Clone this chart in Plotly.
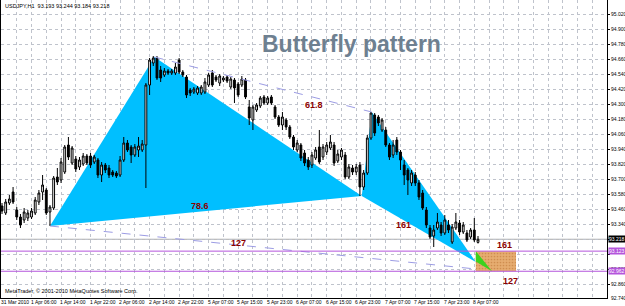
import plotly.graph_objects as go

# ---------------- data ----------------
bar_index = list(range(130))
opens = [93.484, 93.428, 93.508, 93.596, 93.452, 93.396, 93.372, 93.388, 93.396, 93.428,
         93.516, 93.596, 93.612, 93.436, 93.468, 93.716, 93.692, 93.756, 93.972, 93.828,
         93.860, 93.796, 93.820, 93.884, 93.884, 93.836, 93.852, 93.732, 93.812, 93.788,
         93.756, 93.748, 93.732, 93.852, 93.988, 93.956, 93.892, 93.932, 93.932, 93.972,
         94.452, 94.628, 94.668, 94.572, 94.532, 94.564, 94.548, 94.548, 94.652, 94.556,
         94.516, 94.412, 94.396, 94.388, 94.388, 94.396, 94.452, 94.548, 94.516, 94.468,
         94.492, 94.516, 94.436, 94.492, 94.460, 94.452, 94.492, 94.276, 94.172, 94.252,
         94.284, 94.356, 94.308, 94.356, 94.276, 94.196, 94.132, 94.172, 94.116, 94.036,
         93.932, 93.972, 93.908, 93.852, 93.812, 93.868, 93.956, 93.876, 93.916, 93.948,
         93.972, 93.844, 93.876, 93.892, 93.716, 93.788, 93.756, 93.812, 93.636, 93.748,
         94.028, 94.212, 94.196, 94.092, 94.092, 93.972, 93.892, 94.012, 93.916, 93.812,
         93.772, 93.668, 93.732, 93.668, 93.588, 93.452, 93.308, 93.244, 93.308, 93.332,
         93.268, 93.332, 93.196, 93.308, 93.348, 93.276, 93.268, 93.236, 93.292, 93.193]
highs = [93.508, 93.540, 93.572, 93.636, 93.476, 93.420, 93.468, 93.452, 93.468, 93.556,
         93.612, 93.732, 93.628, 93.492, 93.724, 93.788, 93.868, 93.972, 94.036, 93.964,
         93.884, 93.876, 93.908, 93.900, 93.908, 93.892, 93.868, 93.836, 93.828, 93.812,
         93.772, 93.764, 93.884, 94.036, 94.012, 93.972, 93.980, 94.036, 94.012, 94.468,
         94.668, 94.684, 94.684, 94.604, 94.588, 94.580, 94.580, 94.628, 94.668, 94.572,
         94.532, 94.428, 94.436, 94.444, 94.452, 94.508, 94.548, 94.572, 94.532, 94.540,
         94.524, 94.532, 94.516, 94.508, 94.476, 94.524, 94.508, 94.332, 94.292, 94.308,
         94.364, 94.372, 94.364, 94.372, 94.292, 94.212, 94.236, 94.188, 94.132, 94.052,
         94.012, 93.988, 93.932, 93.876, 93.916, 93.956, 94.092, 93.980, 93.996, 94.052,
         93.996, 93.932, 93.948, 93.916, 93.820, 93.812, 93.820, 93.836, 93.772, 94.052,
         94.236, 94.228, 94.212, 94.188, 94.116, 93.988, 94.012, 94.036, 93.932, 93.852,
         93.788, 93.772, 93.756, 93.692, 93.612, 93.476, 93.332, 93.332, 93.428, 93.356,
         93.412, 93.372, 93.340, 93.428, 93.372, 93.356, 93.292, 93.308, 93.388, 93.244]
lows = [93.420, 93.412, 93.492, 93.500, 93.372, 93.308, 93.348, 93.364, 93.380, 93.412,
        93.492, 93.532, 93.412, 93.324, 93.452, 93.652, 93.668, 93.740, 93.852, 93.812,
        93.756, 93.772, 93.804, 93.812, 93.788, 93.820, 93.708, 93.676, 93.748, 93.708,
        93.716, 93.708, 93.716, 93.836, 93.916, 93.828, 93.876, 93.876, 93.916, 93.628,
        94.372, 94.604, 94.492, 94.476, 94.516, 94.532, 94.532, 94.532, 94.540, 94.516,
        94.348, 94.364, 94.380, 94.372, 94.372, 94.380, 94.436, 94.436, 94.476, 94.444,
        94.476, 94.468, 94.420, 94.308, 94.356, 94.436, 94.340, 94.132, 94.092, 94.236,
        94.268, 94.292, 94.292, 94.292, 94.180, 94.116, 94.092, 94.092, 94.020, 93.932,
        93.916, 93.844, 93.804, 93.772, 93.788, 93.852, 93.820, 93.852, 93.892, 93.932,
        93.804, 93.828, 93.852, 93.700, 93.700, 93.732, 93.732, 93.564, 93.612, 93.732,
        94.012, 94.044, 94.124, 94.076, 93.956, 93.852, 93.868, 93.892, 93.772, 93.652,
        93.572, 93.644, 93.644, 93.532, 93.452, 93.308, 93.220, 93.156, 93.292, 93.244,
        93.252, 93.268, 93.180, 93.292, 93.252, 93.260, 93.196, 93.220, 93.196, 93.184]
closes = [93.444, 93.516, 93.540, 93.516, 93.396, 93.332, 93.436, 93.428, 93.444, 93.532,
          93.588, 93.652, 93.428, 93.476, 93.708, 93.676, 93.836, 93.956, 93.876, 93.948,
          93.780, 93.852, 93.884, 93.828, 93.812, 93.876, 93.732, 93.812, 93.772, 93.732,
          93.732, 93.724, 93.852, 93.988, 93.932, 93.892, 93.956, 93.964, 93.980, 94.452,
          94.652, 94.668, 94.508, 94.508, 94.564, 94.548, 94.564, 94.596, 94.556, 94.532,
          94.372, 94.388, 94.420, 94.428, 94.436, 94.476, 94.532, 94.452, 94.492, 94.524,
          94.508, 94.484, 94.500, 94.428, 94.372, 94.500, 94.356, 94.188, 94.276, 94.292,
          94.348, 94.308, 94.348, 94.308, 94.196, 94.132, 94.196, 94.116, 94.036, 93.956,
          93.988, 93.868, 93.828, 93.796, 93.892, 93.932, 93.836, 93.956, 93.972, 93.996,
          93.828, 93.900, 93.932, 93.716, 93.796, 93.756, 93.796, 93.636, 93.748, 94.028,
          94.228, 94.068, 94.148, 94.172, 93.972, 93.876, 93.972, 93.916, 93.852, 93.732,
          93.692, 93.748, 93.668, 93.556, 93.468, 93.332, 93.236, 93.292, 93.356, 93.268,
          93.372, 93.292, 93.316, 93.356, 93.276, 93.332, 93.212, 93.292, 93.212, 93.218]

time_labels = ["31 Mar 2010", "1 Apr 06:00", "1 Apr 14:00", "1 Apr 22:00", "2 Apr 06:00",
               "2 Apr 14:00", "2 Apr 22:00", "5 Apr 07:00", "5 Apr 15:00", "5 Apr 23:00",
               "6 Apr 07:00", "6 Apr 15:00", "6 Apr 23:00", "7 Apr 07:00", "7 Apr 15:00",
               "7 Apr 23:00", "8 Apr 07:00"]
label_bars = [0, 8, 16, 24, 32, 40, 48, 56, 64, 72, 80, 88, 96, 104, 112, 120, 128]

price_ticks = [95.020, 94.900, 94.780, 94.660, 94.540, 94.420, 94.300, 94.180, 94.060,
               93.940, 93.820, 93.700, 93.580, 93.460, 93.340, 93.220, 93.100, 92.980,
               92.860]
covered_ticks = [93.220, 93.100]
bottom_price_label = 92.740

# Butterfly pattern points X, A, B, C, D
pattern_bar = [13.0, 41.3, 97.5, 100.2, 128.4]
pattern_price = [93.324, 94.676, 93.564, 94.236, 93.036]
xd_end = (128.4, 92.980)

current_price = 93.218
level_161 = 93.123
level_127 = 92.962
zone_bars = [128.4, 139.3]
green_bar = [128.4, 128.4, 132.8]
green_price = [93.123, 93.040, 92.962]

ratio_text = ["61.8", "78.6", "127", "161", "161", "127"]
ratio_bar = [84.6, 53.7, 64.0, 108.7, 136.3, 137.7]
ratio_price = [94.292, 93.484, 93.188, 93.332, 93.172, 92.884]

title_text = "USDJPY,H1  93.193 93.244 93.184 93.218"

# ---------------- figure ----------------
BLUE = "#00BFFF"
PURPLE = "#B455DC"
DASH = "#9C9CE4"
RED = "#8B0000"

fig = go.Figure()


def tri_path(ix):
    pts = ["%s,%s" % (pattern_bar[k], pattern_price[k]) for k in ix]
    return "M " + " L ".join(pts) + " Z"


X, A, B, C, D = range(5)
# blue triangles (between grid and candles)
for ix in ((X, A, B), (B, C, D)):
    fig.add_shape(type="path", xref="x", yref="y", path=tri_path(ix),
                  fillcolor=BLUE, line=dict(width=0), layer="between")

# dashed guide lines A-C and X-D
fig.add_trace(go.Scatter(
    x=[pattern_bar[A], pattern_bar[C]], y=[pattern_price[A], pattern_price[C]],
    mode="lines", line=dict(color=DASH, width=1, dash="dash"),
    hoverinfo="skip", showlegend=False))
fig.add_trace(go.Scatter(
    x=[pattern_bar[X], xd_end[0]], y=[pattern_price[X], xd_end[1]],
    mode="lines", line=dict(color=DASH, width=1, dash="dash"),
    hoverinfo="skip", showlegend=False))
# orange PRZ zone
fig.add_trace(go.Scatter(
    x=[zone_bars[0], zone_bars[1], zone_bars[1], zone_bars[0], zone_bars[0]],
    y=[level_161, level_161, level_127, level_127, level_161],
    fill="toself", fillcolor="#E2A466", mode="lines", line=dict(width=0),
    fillpattern=dict(shape=".", bgcolor="#E6AC70", fgcolor="#B8702E", size=3, solidity=0.25),
    hoverinfo="skip", showlegend=False))
# green triangle
fig.add_trace(go.Scatter(
    x=green_bar + [green_bar[0]], y=green_price + [green_price[0]],
    fill="toself", fillcolor="#3CD21E", mode="lines", line=dict(width=0),
    hoverinfo="skip", showlegend=False))

# candles
fig.add_trace(go.Candlestick(
    x=bar_index, open=opens, high=highs, low=lows, close=closes,
    increasing=dict(fillcolor="white", line=dict(color="black", width=1)),
    decreasing=dict(fillcolor="black", line=dict(color="black", width=1)),
    whiskerwidth=0, showlegend=False, hoverinfo="skip"))

# horizontal levels
fig.add_shape(type="line", xref="paper", x0=0, x1=1, yref="y", y0=current_price, y1=current_price,
              line=dict(color="#A8A8A8", width=1), layer="between")
for lv in (level_161, level_127):
    fig.add_shape(type="line", xref="paper", x0=0, x1=1, yref="y", y0=lv, y1=lv,
                  line=dict(color=PURPLE, width=1), layer="above")

# ratio labels
for t, bx, py in zip(ratio_text, ratio_bar, ratio_price):
    fig.add_annotation(x=bx, y=py, xref="x", yref="y", text="<b>%s</b>" % t, showarrow=False,
                       font=dict(family="Liberation Sans", size=9, color=RED))

# price boxes on the axis
for val, bg in ((current_price, "black"), (level_161, PURPLE), (level_127, PURPLE)):
    fig.add_annotation(x=1, xref="paper", y=val, yref="y", text="%.3f" % val, showarrow=False,
                       xanchor="left", xshift=1, bgcolor=bg, borderpad=0,
                       font=dict(family="Liberation Sans", size=5, color="white"))
# lowest price label sits on the bottom edge of the chart
fig.add_annotation(x=1, xref="paper", y=0, yref="paper", text="%.3f" % bottom_price_label,
                   showarrow=False, xanchor="left", yanchor="middle", xshift=2,
                   font=dict(family="Liberation Sans", size=5, color="black"))

# time labels, left-aligned at their bar like MetaTrader
for bx, t in zip(label_bars, time_labels):
    fig.add_annotation(x=bx, xref="x", y=0, yref="paper", text=t, showarrow=False,
                       xanchor="left", yanchor="top", xshift=-2, yshift=0, borderpad=0,
                       font=dict(family="Liberation Sans", size=5, color="black"))

# texts
fig.add_annotation(x=0.004, y=0.995, xref="paper", yref="paper", xanchor="left", yanchor="top",
                   text=title_text, showarrow=False,
                   font=dict(family="Liberation Sans", size=5.5, color="black"))
fig.add_annotation(x=0.004, y=0.025, xref="paper", yref="paper", xanchor="left", yanchor="middle",
                   text="MetaTrader, \u00a9 2001-2010 MetaQuotes Software Corp.", showarrow=False,
                   font=dict(family="Liberation Sans", size=5.5, color="black"))
fig.add_annotation(x=0.579, y=0.852, xref="paper", yref="paper", xanchor="center", yanchor="middle",
                   text="<b>Butterfly pattern</b>", showarrow=False,
                   font=dict(family="Liberation Sans", size=23, color="#6E8090"))

ytext = ["" if any(abs(v - c) < 1e-6 for c in covered_ticks) else "%.3f" % v for v in price_ticks]

fig.update_layout(
    width=625, height=306,
    margin=dict(l=1, r=18, t=0, b=8),
    paper_bgcolor="white", plot_bgcolor="white",
    showlegend=False,
    xaxis=dict(range=[-0.27, 163.96], rangeslider=dict(visible=False),
               tickmode="array", tickvals=label_bars, showticklabels=False, ticks="",
               showgrid=True, gridcolor="#BFC3CC", griddash="dot", gridwidth=1,
               minor=dict(dtick=4, tick0=0, showgrid=True, gridcolor="#BFC3CC", griddash="dot",
                          ticks=""),
               showline=True, linecolor="black", linewidth=1, mirror=True,
               zeroline=False, automargin=False, fixedrange=True),
    yaxis=dict(range=[92.748, 95.132], side="right",
               tickmode="array", tickvals=price_ticks, ticktext=ytext,
               ticks="outside", ticklen=2, tickcolor="black",
               tickfont=dict(family="Liberation Sans", size=5, color="black"),
               showgrid=True, gridcolor="#BFC3CC", griddash="dot", gridwidth=1,
               showline=True, linecolor="black", linewidth=1, mirror=True,
               zeroline=False, automargin=False, fixedrange=True),
)

fig.write_html("out.html")
